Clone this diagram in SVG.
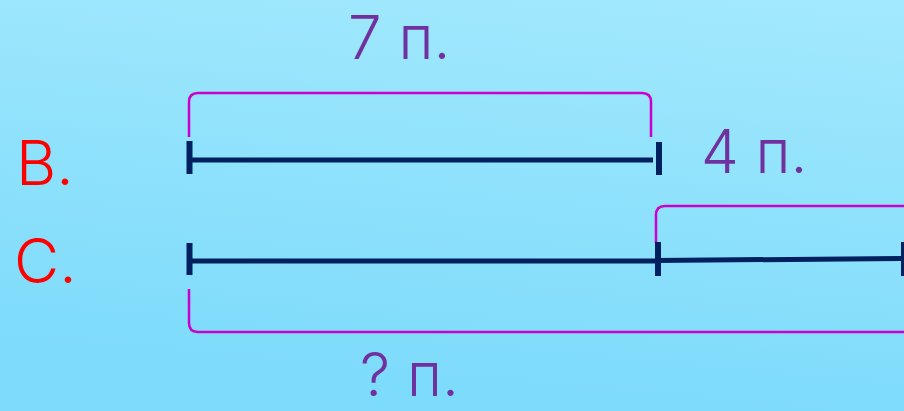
<svg xmlns="http://www.w3.org/2000/svg" width="904" height="411" viewBox="0 0 904 411">
<defs>
<linearGradient id="bg" x1="1" y1="0" x2="0.8" y2="1">
<stop offset="0" stop-color="#a3e9fd"/>
<stop offset="1" stop-color="#7ddbfb"/>
</linearGradient>
<style>
.seg{stroke:#002060;stroke-width:5;fill:none}
.tick{stroke:#002060;stroke-width:6;fill:none}
.br{stroke:#cc00cc;stroke-width:2.5;fill:none}
.lbl{font-family:"Inter","Liberation Sans",sans-serif;font-size:60px;font-weight:300;fill:#7030a0}
.name{font-family:"Inter","Liberation Sans",sans-serif;font-size:62px;font-weight:300;fill:#ff0000}
</style>
</defs>
<rect width="904" height="411" fill="url(#bg)"/>
<g id="connectors">
<path class="br" d="M189,137 L189,102 Q189,93 198,93 L642,93 Q651,93 651,102 L651,137"/>
<path class="br" d="M656,243 L656,215 Q656,206 665,206 L904,206"/>
<path class="br" d="M189,289 L189,323 Q189,332 198,332 L904,332"/>
</g>
<g id="lineB">
<line class="seg" x1="189" y1="160" x2="653" y2="160"/>
<line class="tick" x1="189.5" y1="141" x2="189.5" y2="174"/>
<line class="tick" x1="659" y1="142" x2="659" y2="175"/>
</g>
<g id="lineC">
<line class="seg" x1="189" y1="261" x2="655" y2="261"/>
<line class="seg" x1="655" y1="260.5" x2="901" y2="258.5"/>
<line class="tick" x1="189.5" y1="243" x2="189.5" y2="275"/>
<line class="tick" x1="658" y1="242" x2="658" y2="276"/>
<line class="tick" x1="904" y1="242" x2="904" y2="276"/>
</g>
<g id="label7">
<text class="lbl" x="348" y="59">7 п.</text>
</g>
<g id="label4">
<text class="lbl" x="701" y="173">4 п.</text>
</g>
<g id="labelQ">
<text class="lbl" x="360" y="396">? п.</text>
</g>
<g id="nameB">
<text class="name" x="16" y="185">В.</text>
</g>
<g id="nameC">
<text class="name" x="14" y="283">С.</text>
</g>
</svg>
